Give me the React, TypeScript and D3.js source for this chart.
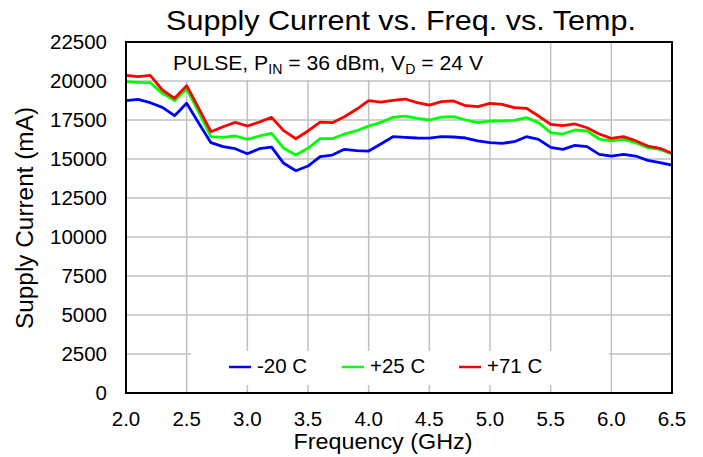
import React from "react";
import * as d3 from "d3";

const freqs = [2.0,2.1,2.2,2.3,2.4,2.5,2.6,2.7,2.8,2.9,3.0,3.1,3.2,3.3,3.4,3.5,3.6,3.7,3.8,3.9,4.0,4.1,4.2,4.3,4.4,4.5,4.6,4.7,4.8,4.9,5.0,5.1,5.2,5.3,5.4,5.5,5.6,5.7,5.8,5.9,6.0,6.1,6.2,6.3,6.4,6.5];
const minus20 = [18740,18825,18610,18310,17775,18570,17290,16045,15790,15660,15340,15660,15760,14725,14250,14550,15150,15255,15620,15535,15510,15960,16430,16390,16345,16335,16430,16410,16345,16155,16045,16005,16110,16430,16260,15750,15620,15875,15790,15300,15190,15300,15190,14915,14760,14615];
const plus25 = [19955,19910,19890,19210,18740,19510,17990,16430,16390,16475,16260,16475,16645,15685,15255,15685,16300,16300,16600,16815,17115,17350,17670,17755,17605,17500,17690,17710,17500,17330,17435,17435,17480,17650,17330,16690,16600,16860,16795,16280,16155,16260,16045,15725,15620,15320];
const plus71 = [20365,20276,20365,19423,18890,19700,18250,16750,17070,17350,17115,17370,17670,16815,16300,16795,17370,17330,17710,18185,18740,18650,18760,18845,18610,18450,18675,18720,18415,18355,18570,18505,18290,18250,17755,17220,17135,17245,17005,16600,16325,16430,16175,15830,15685,15365];
const seriesNames = ["-20 C", "+25 C", "+71 C"];
const seriesColors = ["#0000ff", "#00ff00", "#ff0000"];
const xTicks = [2.0,2.5,3.0,3.5,4.0,4.5,5.0,5.5,6.0,6.5];
const yTicks = [0,2500,5000,7500,10000,12500,15000,17500,20000,22500];

export default function App() {
  const W = 703, H = 457;
  const L = 126, R = 672, T = 42, B = 393;
  const x = d3.scaleLinear().domain([2, 6.5]).range([L, R]);
  const y = d3.scaleLinear().domain([0, 22500]).range([B, T]);
  const series = [minus20, plus25, plus71];
  const line = d3.line<number>().x((_, i) => x(freqs[i])).y(d => y(d));
  const font = "'Liberation Sans', Arial, sans-serif";
  const legendX = [229, 342, 459];
  return (
    <svg width={W} height={H} style={{ position: "absolute", left: 0, top: 0 }} fontFamily={font}>
      <rect x={0} y={0} width={W} height={H} fill="#fff" />
      {/* grid */}
      {yTicks.map(t => (
        <line key={"gy" + t} x1={L} x2={R} y1={y(t)} y2={y(t)} stroke="#c0c0c0" strokeWidth={1.5} />
      ))}
      {xTicks.map(t => (
        <line key={"gx" + t} x1={x(t)} x2={x(t)} y1={T} y2={B} stroke="#c0c0c0" strokeWidth={1.5} />
      ))}
      {/* annotation box */}
      <rect x={165} y={43} width={330} height={37} fill="#fff" />
      <text x={173} y={70} fontSize={21} fill="#000" textLength={310} lengthAdjust="spacingAndGlyphs">
        PULSE, P<tspan fontSize={14} dy={4}>IN</tspan><tspan dy={-4}> = 36 dBm, V</tspan><tspan fontSize={14} dy={4}>D</tspan><tspan dy={-4}> = 24 V</tspan>
      </text>
      {/* legend box */}
      <rect x={191} y={351} width={418} height={34} fill="#fff" />
      {seriesNames.map((n, i) => (
        <g key={n}>
          <line x1={legendX[i]} x2={legendX[i] + 22} y1={367} y2={367} stroke={seriesColors[i]} strokeWidth={2.5} />
          <text x={legendX[i] + 28} y={373} fontSize={20.5} fill="#000">{n}</text>
        </g>
      ))}
      {/* lines */}
      {series.map((s, i) => (
        <path key={i} d={line(s) || ""} fill="none" stroke={seriesColors[i]} strokeWidth={2.8} strokeLinejoin="round" />
      ))}
      {/* frame */}
      <rect x={L} y={T} width={R - L} height={B - T} fill="none" stroke="#000" strokeWidth={2} />
      {/* y tick labels */}
      {yTicks.map(t => (
        <text key={"yl" + t} x={107} y={y(t) + 7} textAnchor="end" fontSize={20.5} fill="#000">{t}</text>
      ))}
      {xTicks.map(t => (
        <text key={"xl" + t} x={x(t)} y={426} textAnchor="middle" fontSize={20.5} fill="#000">{t.toFixed(1)}</text>
      ))}
      <text x={383} y={449} textAnchor="middle" fontSize={22} fill="#000" textLength={179} lengthAdjust="spacingAndGlyphs">Frequency (GHz)</text>
      <text transform={`translate(33, 218) rotate(-90)`} textAnchor="middle" fontSize={23} fill="#000" textLength={222} lengthAdjust="spacingAndGlyphs">Supply Current (mA)</text>
      <text x={401} y={30} textAnchor="middle" fontSize={28} fill="#000" textLength={470} lengthAdjust="spacingAndGlyphs">Supply Current vs. Freq. vs. Temp.</text>
    </svg>
  );
}
